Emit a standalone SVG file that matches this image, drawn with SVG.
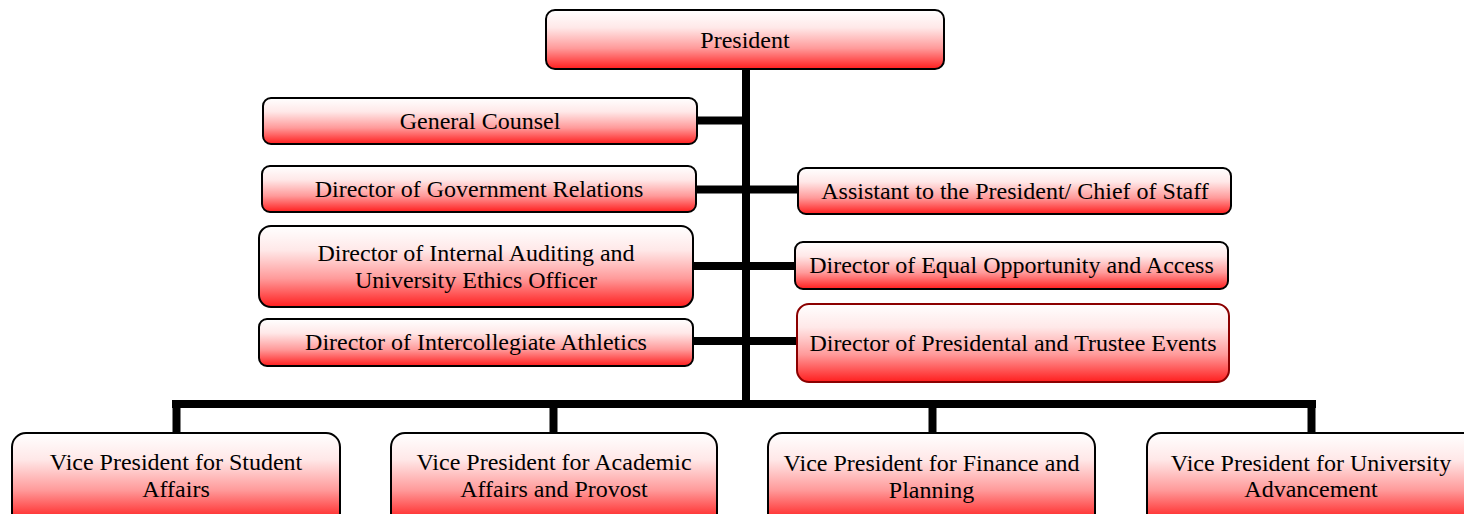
<svg xmlns="http://www.w3.org/2000/svg" width="1464" height="514" viewBox="0 0 1464 514">
<defs>
<linearGradient id="g" x1="0" y1="0" x2="0" y2="1">
<stop offset="0" stop-color="#ffffff"/>
<stop offset="0.3" stop-color="#ffe8e8"/>
<stop offset="0.65" stop-color="#ff9a9a"/>
<stop offset="1" stop-color="#ff1e1e"/>
</linearGradient>
<linearGradient id="gv" x1="0" y1="0" x2="0" y2="88" gradientUnits="userSpaceOnUse">
<stop offset="0" stop-color="#ffffff"/>
<stop offset="0.3" stop-color="#ffe8e8"/>
<stop offset="0.65" stop-color="#ff9a9a"/>
<stop offset="1" stop-color="#ff1e1e"/>
</linearGradient>
</defs>
<style>
.box{fill:url(#g);stroke:#000;stroke-width:2}
.vp{fill:url(#gv);stroke:#000;stroke-width:2}
.dr{stroke:#8b0000}
.t{font-family:"Liberation Serif","Times New Roman",serif;font-size:24px;fill:#000;text-anchor:middle}
.c{stroke:#000;stroke-width:8;fill:none}
</style>
<rect width="1464" height="514" fill="#fff"/>
<g id="connectors">
<line class="c" x1="746" y1="69" x2="746" y2="407"/>
<line class="c" x1="172" y1="404" x2="1316" y2="404"/>
<line class="c" x1="176.5" y1="404" x2="176.5" y2="433"/>
<line class="c" x1="553.5" y1="404" x2="553.5" y2="433"/>
<line class="c" x1="932.5" y1="404" x2="932.5" y2="433"/>
<line class="c" x1="1311.5" y1="404" x2="1311.5" y2="433"/>
<line class="c" x1="697" y1="120.5" x2="746" y2="120.5"/>
<line class="c" x1="696" y1="189.5" x2="798" y2="189.5"/>
<line class="c" x1="693" y1="266" x2="795" y2="266"/>
<line class="c" x1="693" y1="341" x2="797" y2="341"/>
</g>
<g id="president">
<rect class="box" x="546" y="10" width="398" height="59" rx="9"/>
<text class="t" x="745" y="48">President</text>
</g>
<g id="general-counsel">
<rect class="box" x="263" y="98" width="434" height="46" rx="8"/>
<text class="t" x="480" y="129">General Counsel</text>
</g>
<g id="gov-relations">
<rect class="box" x="262" y="166" width="434" height="46" rx="8"/>
<text class="t" x="479" y="197">Director of Government Relations</text>
</g>
<g id="assistant">
<rect class="box" x="798" y="168" width="433" height="46" rx="8"/>
<text class="t" x="1015" y="199">Assistant to the President/ Chief of Staff</text>
</g>
<g id="internal-auditing">
<rect class="box" x="259" y="226" width="434" height="81" rx="12"/>
<text class="t" x="476" y="261">Director of Internal Auditing and</text>
<text class="t" x="476" y="288">University Ethics Officer</text>
</g>
<g id="equal-opportunity">
<rect class="box" x="795" y="242" width="433" height="47" rx="8"/>
<text class="t" x="1011.5" y="273">Director of Equal Opportunity and Access</text>
</g>
<g id="athletics">
<rect class="box" x="259" y="319" width="434" height="47" rx="8"/>
<text class="t" x="476" y="350">Director of Intercollegiate Athletics</text>
</g>
<g id="events">
<rect class="box dr" x="797" y="304" width="432" height="78" rx="12"/>
<text class="t" x="1013" y="351">Director of Presidental and Trustee Events</text>
</g>
<g id="vp-student" transform="translate(0,433)">
<rect class="vp" x="12" y="0" width="328" height="100" rx="14"/>
<text class="t" x="176" y="37">Vice President for Student</text>
<text class="t" x="176" y="64">Affairs</text>
</g>
<g id="vp-academic" transform="translate(0,433)">
<rect class="vp" x="391" y="0" width="326" height="100" rx="14"/>
<text class="t" x="554" y="37">Vice President for Academic</text>
<text class="t" x="554" y="64">Affairs and Provost</text>
</g>
<g id="vp-finance" transform="translate(0,433)">
<rect class="vp" x="768" y="0" width="327" height="100" rx="14"/>
<text class="t" x="931.5" y="38">Vice President for Finance and</text>
<text class="t" x="931.5" y="65">Planning</text>
</g>
<g id="vp-advancement" transform="translate(0,433)">
<rect class="vp" x="1147" y="0" width="330" height="100" rx="14"/>
<text class="t" x="1311" y="38">Vice President for University</text>
<text class="t" x="1311" y="64">Advancement</text>
</g>
</svg>
